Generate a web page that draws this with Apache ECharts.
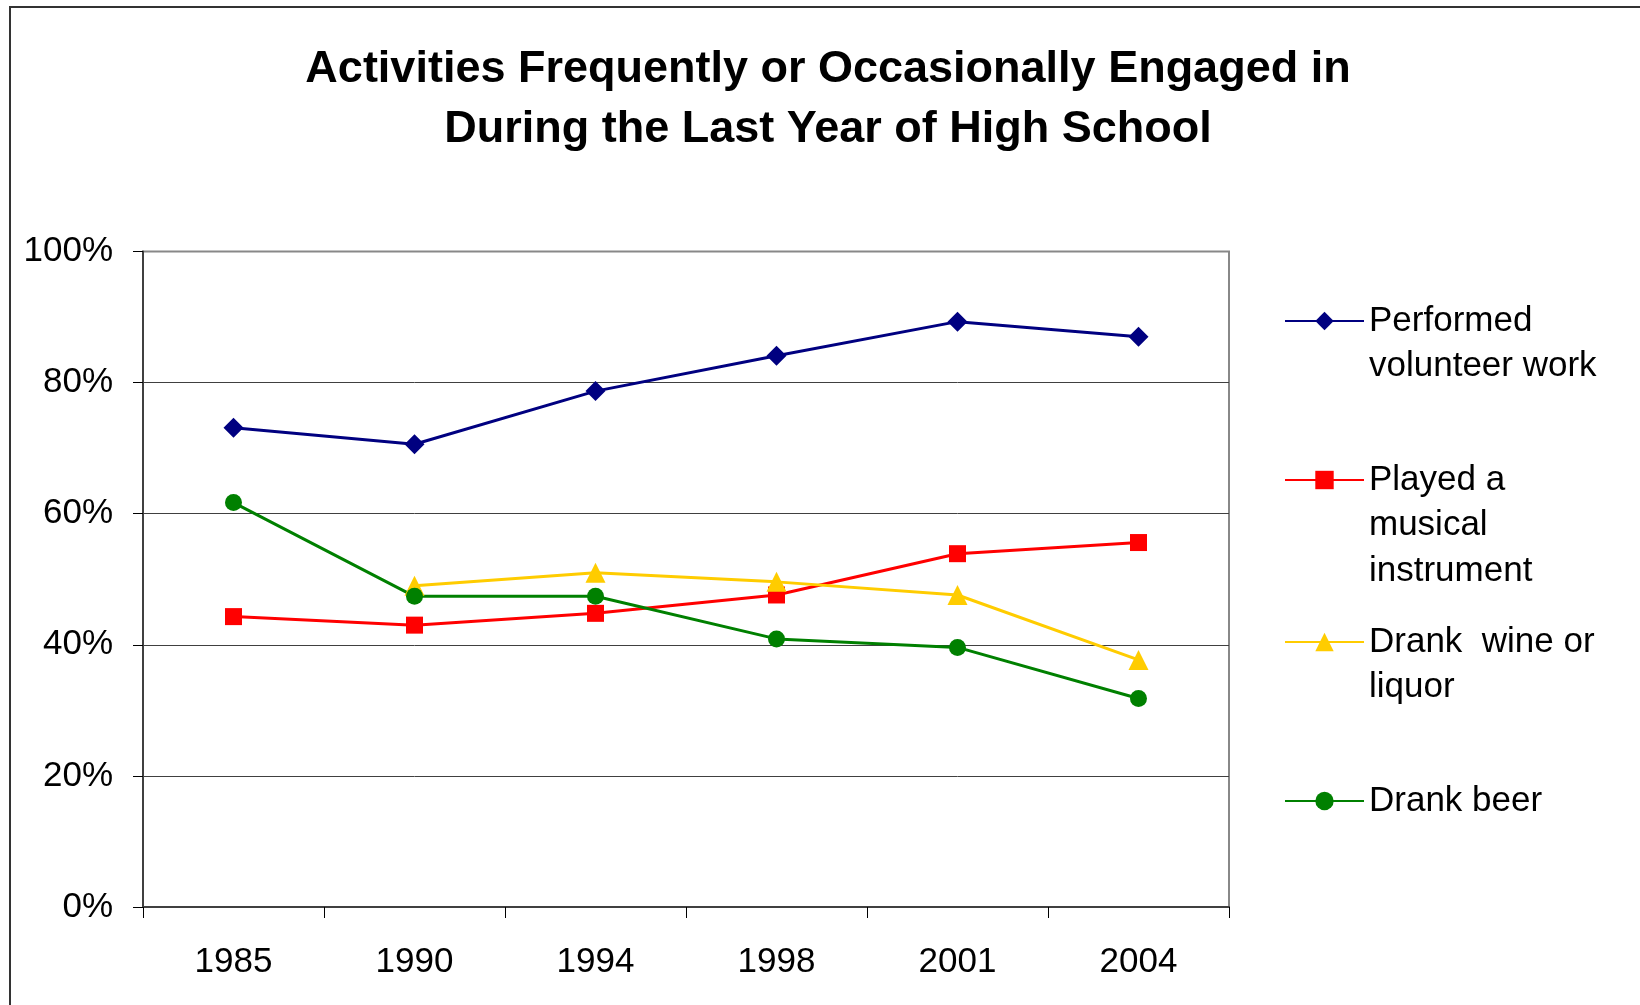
<!DOCTYPE html>
<html>
<head>
<meta charset="utf-8">
<script src="https://cdn.jsdelivr.net/npm/echarts@6/dist/echarts.min.js"></script>
<style>
  html, body { margin: 0; padding: 0; background: #fff; }
  #chart { width: 1640px; height: 1005px; }
</style>
</head>
<body>
<div id="chart"></div>
<script>
const years = ['1985', '1990', '1994', '1998', '2001', '2004'];
const volunteer = [73.1, 70.6, 78.7, 84.1, 89.3, 87.0];
const musical = [44.3, 43.0, 44.8, 47.6, 53.9, 55.6];
const wineLiquor = [null, 49.0, 51.0, 49.6, 47.6, 37.7];
const beer = [61.7, 47.4, 47.4, 40.9, 39.6, 31.8];
const yTicks = [0, 20, 40, 60, 80, 100];

const seriesNames = ['Performed volunteer work', 'Played a musical instrument', 'Drank wine or liquor', 'Drank beer'];
const legendText = [
  ['Performed', 'volunteer work'],
  ['Played a', 'musical', 'instrument'],
  ['Drank  wine or', 'liquor'],
  ['Drank beer']
];
const colors = ['#000080', '#FF0000', '#FFCC00', '#008000'];
const symbols = ['diamond', 'rect', 'triangle', 'circle'];
const symbolSizes = [20, 17, 20, 17];
const seriesData = [volunteer, musical, wineLiquor, beer];

const FONT = '"Liberation Sans", Arial, Helvetica, sans-serif';
const LH = 45.5;
const iconY = [321, 480, 642, 801];

const legends = seriesNames.map((name, i) => {
  const lines = legendText[i];
  const blanks = lines.length - 1;
  const totalLines = lines.length + blanks;
  const text = '\n'.repeat(blanks) + lines.join('\n');
  return {
    data: [name],
    orient: 'vertical',
    left: 1284,
    top: iconY[i] - totalLines * LH / 2,
    padding: 0,
    itemWidth: 79,
    itemHeight: 23,
    selectedMode: false,
    formatter: () => text,
    textStyle: { fontFamily: FONT, fontSize: 35, color: '#000', lineHeight: LH }
  };
});

const chart = echarts.init(document.getElementById('chart'));
chart.setOption({
  animation: false,
  backgroundColor: '#fff',
  title: {
    text: 'Activities Frequently or Occasionally Engaged in\nDuring the Last Year of High School',
    left: 828,
    top: 40,
    padding: 0,
    textAlign: 'center',
    textStyle: { fontFamily: FONT, fontSize: 45, fontWeight: 'bold', color: '#000', lineHeight: 59.5 }
  },
  graphic: [{
    type: 'polyline',
    shape: { points: [[10, 1010], [10, 7], [1650, 7]] },
    style: { stroke: '#333', lineWidth: 2, fill: null },
    silent: true
  }],
  legend: legends,
  grid: {
    left: 143, top: 251.5, width: 1086, height: 655.5,
    show: true, borderColor: '#888', borderWidth: 2, backgroundColor: '#fff',
    containLabel: false
  },
  xAxis: {
    type: 'category',
    data: years,
    boundaryGap: true,
    axisLine: { lineStyle: { color: '#404040', width: 2 } },
    axisTick: { show: true, length: 11, alignWithLabel: false, lineStyle: { color: '#000', width: 1 } },
    axisLabel: { fontFamily: FONT, fontSize: 35, color: '#000', margin: 38 },
    splitLine: { show: false }
  },
  yAxis: {
    type: 'value',
    min: 0, max: 100, interval: 20,
    axisLine: { show: true, lineStyle: { color: '#404040', width: 2 } },
    axisTick: { show: true, length: 10, lineStyle: { color: '#000', width: 1 } },
    axisLabel: {
      fontFamily: FONT, fontSize: 35, color: '#000', margin: 30,
      formatter: v => yTicks.includes(v) ? v + '%' : ''
    },
    splitLine: { show: true, showMinLine: false, showMaxLine: false, lineStyle: { color: '#404040', width: 1 } }
  },
  series: seriesNames.map((name, i) => ({
    name: name,
    type: 'line',
    data: seriesData[i],
    symbol: symbols[i],
    symbolSize: symbolSizes[i],
    showSymbol: true,
    connectNulls: false,
    color: colors[i],
    lineStyle: { color: colors[i], width: 3 },
    itemStyle: { color: colors[i] }
  }))
});
</script>
</body>
</html>
